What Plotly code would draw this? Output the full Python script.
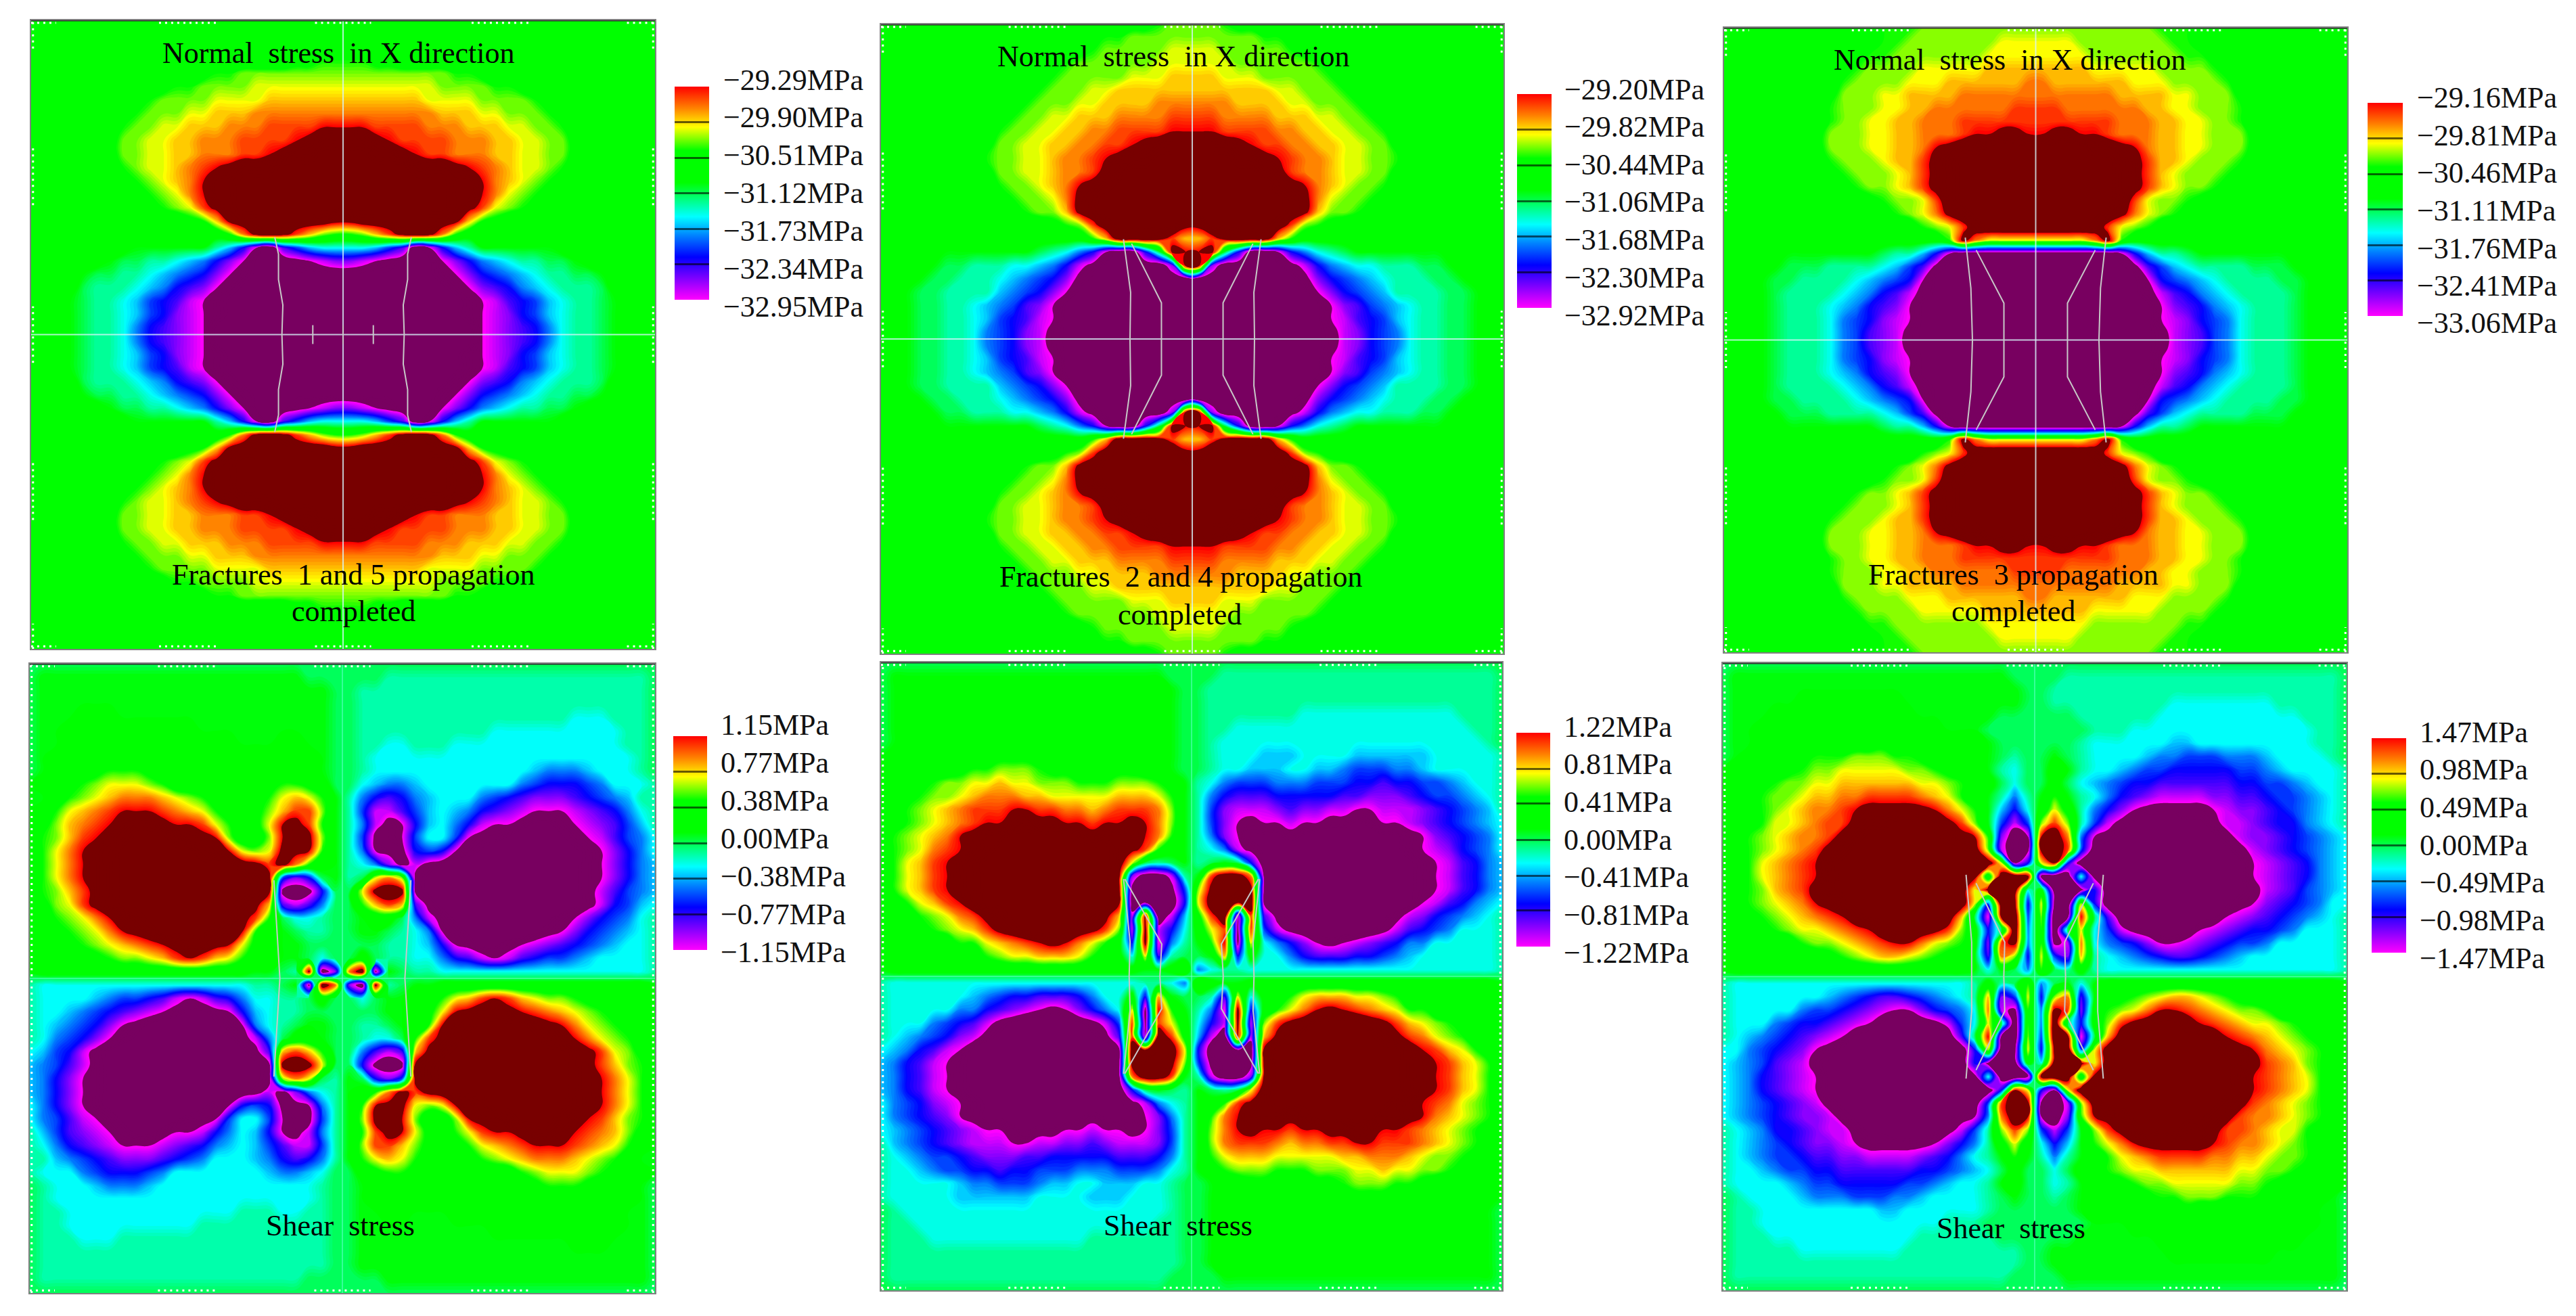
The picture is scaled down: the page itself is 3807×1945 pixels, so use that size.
import plotly.graph_objects as go

W, H = 3807, 1945

# Colour levels, one letter per cell of the top-left quadrant.
# C = bottom of the colour bar, W = top of the colour bar; A,B and X,Y,Z lie beyond it.
NX1 = [
"OOOOOOOOOOOOOOOOOOOOOOOO","OOOOOOOOOOOOOOOOOOOOOOOO","OOOOOOOOOOOOOOOOOOOOOOOO",
"OOOOOOOOOOOOOOOOOOOOPPQQ","OOOOOOOOOOOOOPQQRRRRRRRR","OOOOOOOOOOPQQRRRRSSSSSSS",
"OOOOOOOOPQRRRRSSSSTTTTTT","OOOOOOOPQRRRSSTTTUUUUUUU","OOOOOOPQRRSSTTTUUUVVVVWW",
"OOOOOOPRRSSTTUUUVVVVWXYY","OOOOOOPRRSSTTUUUVVWXYYZZ","OOOOOOOQRSSTUVWXYYYZZZZZ",
"OOOOOOOPQRSTUWYYZZZZZZZZ","OOOOOOOOPQRSUWYYZZZZZZZZ","OOOOOOOOOPQRSVXYZZZZZZZZ",
"OOOOOOOOOOOOPQTXYYYYYYYX","OOOOOOOOOOOOOOOQUXYXVTRQ","OOOOOOOONNNNNNLJGCAFHJKK",
"OOOOOONMMLLKJIGECAAABCDE","OOOONMMLLKJIHGECBAAAAAAA","OOOOMLLLKJIGFECBAAAAAAAA",
"OOONMLLKJHGFDCBAAAAAAAAA","OOONMLLKJHGEDCBAAAAAAAAA","OOONMLLKIGFEDCAAAAAAAAAA",
]
NX2 = [
"OOOOOOOOOOOOOOOOOOOPPQRR","OOOOOOOOOOOOOOOPQQQRRRRR","OOOOOOOOOOOOOOOPQRRRRRSS",
"OOOOOOOOOOOOOPQRRRRRRSSS","OOOOOOOOOOOOPQRRRRRSSSTT","OOOOOOOOOOOPQRRRSSTTTTTT",
"OOOOOOOOOOPQRRRSSTTTTUUU","OOOOOOOOOPQRRSSTTTUUUUVV","OOOOOOOOPQRRSSTTUUVVVVWW",
"OOOOOOOOPRRSSTTUUVVWXYYY","OOOOOOOOQRRSSTUUVWXYYZZZ","OOOOOOOOPRRSSTUUVXYZZZZZ",
"OOOOOOOOPQRRSTUWXYZZZZZZ","OOOOOOOOOPQRRSUXYZZZZZZZ","OOOOOOOOOOPQRRTXYZZZZZZZ",
"OOOOOOOOOOOOOPQRVYZZZZZX","OOOOOOOOOOOOOOOOQTYYYXVT","OOOOONNNNNNNMLKIGCAAGMXW",
"OOOONMMLLLKKJIGDBAAAAAEX","OOONMMLLLKJIHGEBAAAAAAAA","OONMMLLLLJIHGECAAAAAAAAA",
"OONMMLLKJIHFECAAAAAAAAAA","OONMMLLKJHGFDCAAAAAAAAAA","OONMMLLKIHGEDBAAAAAAAAAA",
]
NX3 = [
"OOOOOOOOOOOPQQQRRRRRRRRR","OOOOOOOOOOOPQQRRRRRRRSSS","OOOOOOOOOOPQQRRRRRRRSSSS",
"OOOOOOOOOPQRRRRSSSSSTTTT","OOOOOOOOPQRRRRSSSTTTTTTU","OOOOOOOOPRRRSSTTTTUUUUUU",
"OOOOOOOPQRRRSSTTUUUUUUVV","OOOOOOOPQRRSSTTUUUVVVVVV","OOOOOOOPRRRSSTTUUUVWWXXW",
"OOOOOOOPRRRSSTTUWXYYZZZZ","OOOOOOOOQRRRSTTVXYZZZZZZ","OOOOOOOOPQRRRSTVXYZZZZZZ",
"OOOOOOOOOPQRRSTVXYZZZZZZ","OOOOOOOOOOOPQRRSVYZZZZZZ","OOOOOOOOOOOOPQRSUXYZZZZZ",
"OOOOOOOOOOOOOOOQRSVYZZZZ","OOOOOOOOOOOOOOOOOQXUSSSS","OOOOONNNNNNNMLLJGCAAAAAA",
"OOOONMMMLLLLKJHFBAAAAAAA","OOONMMLLLLKJIHGCAAAAAAAA","OOONMLLLLKJIGFDBAAAAAAAA",
"OOONMLLLKJIGFECAAAAAAAAA","OOONMLLLKIHGEDCAAAAAAAAA","OOONMLLLKIHFEDBAAAAAAAAA",
]
SH1 = [
"MMMM MMMM MMMM MMMM MMMM MMMM","MNNN NNNN NNNN NNNN NNNN NMMM","MNNN NNNN NNNN NNNN NNNN NNNM",
"MNNN NNNN NNNN NNNN NNNN NNNM","MNNN OOON NNNN NNNN NNNN NNNM","MNNO OOOO OOOO ONNN NNNN NNNM",
"MNNO OOOO OOOO OOOO NNNO ONNM","MNOO OOOO OOOO OOOO OOOO OONM","MNOO OPQQ QPOO OOOO OOOO OONM",
"NOOOQRSSSRQOOOOOOOPQQPOM","NNPQRSTUUUTSRQOOOPQSTSQN","NOQSTUVWWWVUTSQPOPRTVVRN",
"NPRTUVWXYYXWWVSQOPSWXVQN","OQRTVWXYZZZYXXWROORWXXRN","OQSUWXYZZZZZZYXWSRSXXWQN",
"PQSUWXYZZZZZZZZZYXVXUQON","PQSUWXYZZZZZZZZZZYXHEGMN","PQRTVXYZZZZZZZZZZYXBABGM",
"OPRSVXYZZZZZZZZZYXTFDFIM","NOQRSUWXYZZZZZZYXVQMKKLM","NOPQRSUWXYZZZZYXWQONMLLM",
"NOOPQRSTUVWXYYXWSPONNMMM","NOOOOPQRRSTVWVTSQOONNMKM","NOOO OOOO OOOO OOOO ONNM LXAE",
]
SH2 = [
"MMMM MMMM MMMM MMMM MMMM MMMM","MNNN NNNN NNNN NNNN NNNN NNMM","MNNN NNNN NNNN NNNN NNNN NNNM",
"MNNN NNNN NNNN NNNN NNNN NNNM","MNNN OOOO OOOO OOOO NNNN NNNM","MNNO OOOO OOOO OOOO OOOO ONNM",
"MNOO OOOO OOOO OOOO OOOO OONM","NOOOOOPPPPPPOOOOPPPOOONM","NOOOOOPQQRRRQPPOOPPPOONM",
"NOOPQRRSSTSSRRRQQQRRRQON","NOPQRRSTUUUTTSSSSSTTTSQN","NPQRSTUVVVWWVVUUTUVVVURN",
"OPQRSTUVWWXYXXWWVWWXWURN","OQRSTUWXYYZZZZZYXYYYWUQN","OQRSUVWXYZZZZZZZZZYXVQON",
"PQSTVWXYZZZZZZZZZZYSMLMN","PQSTVWXYZZZZZZZZZZXEAADL","PQSTVWXYZZZZZZZZZZXBAABH",
"OPQSTVWYZZZZZZZZZZXACAAG","NOPQRSUVXYZZZZZZYXTDXADJ","NOOOQRSTVXYZZZZYXVRDXDGK",
"NOOOOOQQSTUVWXWUSQOGXCIL","NOOOOOOPQRSSTTTSQOOKSFLM","NOOO OOOO OOOO OOOO OOOO NNOQ",
]
SH3 = [
"MMMM MMMM MMMM MMMM MMMM MMMM","MNNN NNNN NNNN NNNN NNNN NNMM","MNNN NNNN NNNN NNNN NNNN NNNM",
"MNNN NNOO OOOO OONN NNNN NNNM","MNNN OOOO OOOO OOON NNNN NMMM","MNNO OOOO OOOO OOOO ONNN MMMM",
"MNNO OOOO OOOO PPOO OOOO NMMM","MNOO OOPQ QQRR RQQP OOOO NMLM","NOOOOPQRRSSSSSRRQPOONLKM",
"NOOPQRRSSTTTTTTSSRQPOMKM","NOPQRRSTTUUVVVVUTSQONLIL","NOPQRSTUUVWXXXXXWUSQNJGK",
"NOPQSSTUVVXYYZZZYXVRNHDH","OPQRSTUUVXYZZZZZZYXWQEAC","OPQRSTUVXYZZZZZZZZZYRDAB",
"OPQSTUVWYZZZZZZZZZZZYSCG","OPQSTUVWYZZZZZZZZZZXOYZY","OPQRTUVXYZZZZZZZZZYSXZYK",
"OOQRSTUWXYZZZZZZZZYSHZXG","NOPQRSTUVWYZZZZZZYTMCXZH","NOOOQRSSTUVWYZZYXVROGMZI",
"NOOOOOQRRSTUVWWUSRQOEVXI","NOOOOOOOPQRSTTSRQPONFURG","NOOO OOOO OOOO OOOO OOON KNMI",
]

LABELS = [
    ["−29.29MPa","−29.90MPa","−30.51MPa","−31.12MPa","−31.73MPa","−32.34MPa","−32.95MPa"],
    ["−29.20MPa","−29.82MPa","−30.44MPa","−31.06MPa","−31.68MPa","−32.30MPa","−32.92MPa"],
    ["−29.16MPa","−29.81MPa","−30.46MPa","−31.11MPa","−31.76MPa","−32.41MPa","−33.06MPa"],
    ["1.15MPa","0.77MPa","0.38MPa","0.00MPa","−0.38MPa","−0.77MPa","−1.15MPa"],
    ["1.22MPa","0.81MPa","0.41MPa","0.00MPa","−0.41MPa","−0.81MPa","−1.22MPa"],
    ["1.47MPa","0.98MPa","0.49MPa","0.00MPa","−0.49MPa","−0.98MPa","−1.47MPa"],
]
TOP_VALUES = [-29.29, -29.20, -29.16, 1.15, 1.22, 1.47]
BOTTOM_VALUES = [-32.95, -32.92, -33.06, -1.15, -1.22, -1.47]
TICK_VALUES = [
    [-29.90,-30.51,-31.12,-31.73,-32.34],
    [-29.82,-30.44,-31.06,-31.68,-32.30],
    [-29.81,-30.46,-31.11,-31.76,-32.41],
    [0.77,0.38,0.00,-0.38,-0.77],
    [0.81,0.41,0.00,-0.41,-0.81],
    [0.98,0.49,0.00,-0.49,-0.98],
]
GRIDS = [NX1, NX2, NX3, SH1, SH2, SH3]

# Fracture traces of the upper-left part, in panel coordinates
FRACTURES = [
    [[(-.219,.31),(-.207,.256),(-.207,.175),(-.193,.094),(-.196,0)]],
    [[(-.221,.317),(-.198,.148),(-.2,0)], [(-.195,.303),(-.099,.115),(-.099,0)]],
    [[(-.226,.328),(-.208,.166),(-.203,0)], [(-.191,.288),(-.102,.118),(-.102,0)]],
    [[(-.219,.312),(-.201,.016),(-.2,0)]],
    [[(-.219,.31),(-.198,.11),(-.201,0)], [(-.215,.31),(-.096,.103),(-.102,0)]],
    [[(-.22,.325),(-.202,.11),(-.202,0)], [(-.188,.298),(-.096,.11),(-.099,0)]],
]
MARKS_P1 = [-.097, 0, .097]

# Layout in reference pixels
PANELS = [(46,968,30,959),(1302,2222,36,966),(2548,3469,41,964),
          (44,968,981,1911),(1302,2220,979,1907),(2546,3468,980,1907)]
BARS = [(997,1048,128,443),(2242,2293,139,455),(3499,3551,152,467),
        (995,1045,1088,1404),(2241,2291,1083,1399),(3505,3556,1091,1408)]
LABEL_POS = [(1067,118,453),(2310,132,466),(3570,145,478),
             (1063,1071,1407),(2309,1074,1408),(3574,1082,1416)]
TEXTS = [
    ("Normal  stress  in X direction",500,78),("Fractures  1 and 5 propagation",522,849),("completed",522,903),
    ("Normal  stress  in X direction",1734,84),("Fractures  2 and 4 propagation",1745,853),("completed",1743,909),
    ("Normal  stress  in X direction",2970,89),("Fractures  3 propagation",2975,849),("completed",2975,903),
    ("Shear  stress",503,1811),("Shear  stress",1741,1811),("Shear  stress",2972,1815),
]
EDGE_SEGMENTS = [(-1,-.92),(-.59,-.406),(-.09,.09),(.412,.596),(.91,1)]

BAR_STOPS = [(0,"#ff00ff"),(.2,"#0000ff"),(.3,"#0080ff"),(.39,"#00ffff"),(.47,"#00ff80"),
             (.55,"#00ff00"),(.70,"#00ff00"),(.81,"#ffff00"),(.90,"#ff8000"),(1,"#ff0000")]
PURPLE, DARKRED = "#780060", "#780000"
FONT = "Liberation Serif"

def pos(u):
    return (u + .1) / 1.25

heat_scale = [[0, PURPLE], [pos(0) - 1e-4, PURPLE]]
heat_scale += [[pos(u), c] for u, c in BAR_STOPS]
heat_scale += [[pos(1) + 1e-4, DARKRED], [1, DARKRED]]

def level(ch):
    return (ord(ch) - ord("A") - 2) / 20

def build_z(rows, lo, hi, shear):
    rows = [r.replace(" ", "") for r in rows]
    for r in rows:
        if len(r) != 24:
            raise ValueError(r)
    if len(rows) != 24:
        raise ValueError(len(rows))
    span = hi - lo
    q = [[lo + level(c) * span for c in r] for r in rows]  # top-left, top row first
    top = []
    for r in q:
        right = [(-v if shear else v) for v in reversed(r)]
        top.append(r + right)
    bottom = [[(-v if shear else v) for v in r] for r in reversed(top)]
    return top + bottom

fig = go.Figure()
layout = {}
annots = []
for i, (x0, x1, y0, y1) in enumerate(PANELS):
    n = "" if i == 0 else str(i + 1)
    shear = i >= 3
    lo, hi = BOTTOM_VALUES[i], TOP_VALUES[i]
    span = hi - lo
    layout["xaxis" + n] = dict(domain=[x0 / W, x1 / W], range=[-1, 1], showgrid=False, zeroline=False,
                               showticklabels=False, ticks="", showline=True, mirror=True,
                               linecolor="#808080", linewidth=2, anchor="y" + n)
    layout["yaxis" + n] = dict(domain=[1 - y1 / H, 1 - y0 / H], range=[-1, 1], showgrid=False, zeroline=False,
                               showticklabels=False, ticks="", showline=True, mirror=True,
                               linecolor="#808080", linewidth=2, anchor="x" + n)
    xa, ya = "x" + n, "y" + n
    fig.add_trace(go.Contour(z=build_z(GRIDS[i], lo, hi, shear), x0=-1, dx=2 / 47, y0=1, dy=-2 / 47,
                             showscale=False, colorscale=heat_scale, zmin=lo - .1 * span, zmax=lo + 1.15 * span,
                             autocontour=False,
                             contours=dict(coloring="fill", showlines=False, start=lo - .0875 * span,
                                           end=lo + 1.1375 * span, size=.0125 * span),
                             line=dict(width=0, smoothing=1.3), hoverinfo="skip", xaxis=xa, yaxis=ya))
    # edge dots
    ex, ey = [], []
    for a, b in EDGE_SEGMENTS:
        for sy in (.992, -.992):
            ex += [a, b, None]; ey += [sy, sy, None]
    side = [(-1, 1)] if shear else EDGE_SEGMENTS
    for a, b in side:
        for sx in (-.994, .994):
            ex += [sx, sx, None]; ey += [a, b, None]
    fig.add_trace(go.Scatter(x=ex, y=ey, mode="lines", hoverinfo="skip", showlegend=False,
                             line=dict(color="white", width=3, dash="3px,6px"), xaxis=xa, yaxis=ya))
    # centre lines
    c = "rgba(120,255,230,.6)" if shear else "rgba(215,245,250,.8)"
    fig.add_trace(go.Scatter(x=[0, 0, None, -1, 1], y=[-1, 1, None, 0, 0], mode="lines", hoverinfo="skip",
                             showlegend=False, line=dict(color=c, width=1.5 if shear else 2), xaxis=xa, yaxis=ya))
    # fractures
    fx, fy = [], []
    for path in FRACTURES[i]:
        for sx in (1, -1):
            fx += [sx * p[0] for p in path] + [sx * p[0] for p in reversed(path)] + [None]
            fy += [p[1] for p in path] + [-p[1] for p in reversed(path)] + [None]
    if i == 0:
        for m in MARKS_P1:
            fx += [m, m, None]; fy += [-.03, .03, None]
    fig.add_trace(go.Scatter(x=fx, y=fy, mode="lines", hoverinfo="skip", showlegend=False,
                             line=dict(color="#c8c8c8", width=2), xaxis=xa, yaxis=ya))
    # dark top edge
    fig.add_trace(go.Scatter(x=[-1, 1], y=[1, 1], mode="lines", hoverinfo="skip", showlegend=False, cliponaxis=False,
                             line=dict(color="#303030", width=3), xaxis=xa, yaxis=ya))
    # colour bar with its own value range
    bx0, bx1, by0, by1 = BARS[i]
    fig.add_trace(go.Scatter(x=[None, None], y=[None, None], mode="markers", hoverinfo="skip", showlegend=False,
                             xaxis=xa, yaxis=ya,
                             marker=dict(color=[lo, hi], cmin=lo, cmax=hi, showscale=True,
                                         colorscale=[[u, col] for u, col in BAR_STOPS],
                                         colorbar=dict(x=bx0 / W, xanchor="left", y=1 - by1 / H, yanchor="bottom",
                                                       len=(by1 - by0) / H, lenmode="fraction",
                                                       thickness=bx1 - bx0, thicknessmode="pixels",
                                                       xpad=0, ypad=0, outlinewidth=0, borderwidth=0,
                                                       tickmode="array", tickvals=TICK_VALUES[i],
                                                       ticks="inside", ticklen=bx1 - bx0, tickwidth=3,
                                                       tickcolor="rgba(0,0,0,.6)", showticklabels=False))))
    lx, ly0, ly1 = LABEL_POS[i]
    for k, t in enumerate(LABELS[i]):
        annots.append(dict(text=t, x=lx / W, y=1 - (ly0 + (ly1 - ly0) * k / 6) / H, xref="paper", yref="paper",
                           xanchor="left", yanchor="middle", showarrow=False,
                           font=dict(family=FONT, size=44, color="#111111")))

for t, x, y in TEXTS:
    annots.append(dict(text=t.replace("  ", "\u00a0 "), x=x / W, y=1 - y / H, xref="paper", yref="paper",
                       xanchor="center", yanchor="middle", showarrow=False,
                       font=dict(family=FONT, size=44, color="black")))

fig.update_layout(width=W, height=H, margin=dict(l=0, r=0, t=0, b=0), paper_bgcolor="white",
                  plot_bgcolor="white", showlegend=False, annotations=annots, **layout)
fig.write_html("out.html", config={"displayModeBar": False},
               post_script="document.body.style.margin='0';document.body.style.overflow='hidden';")
